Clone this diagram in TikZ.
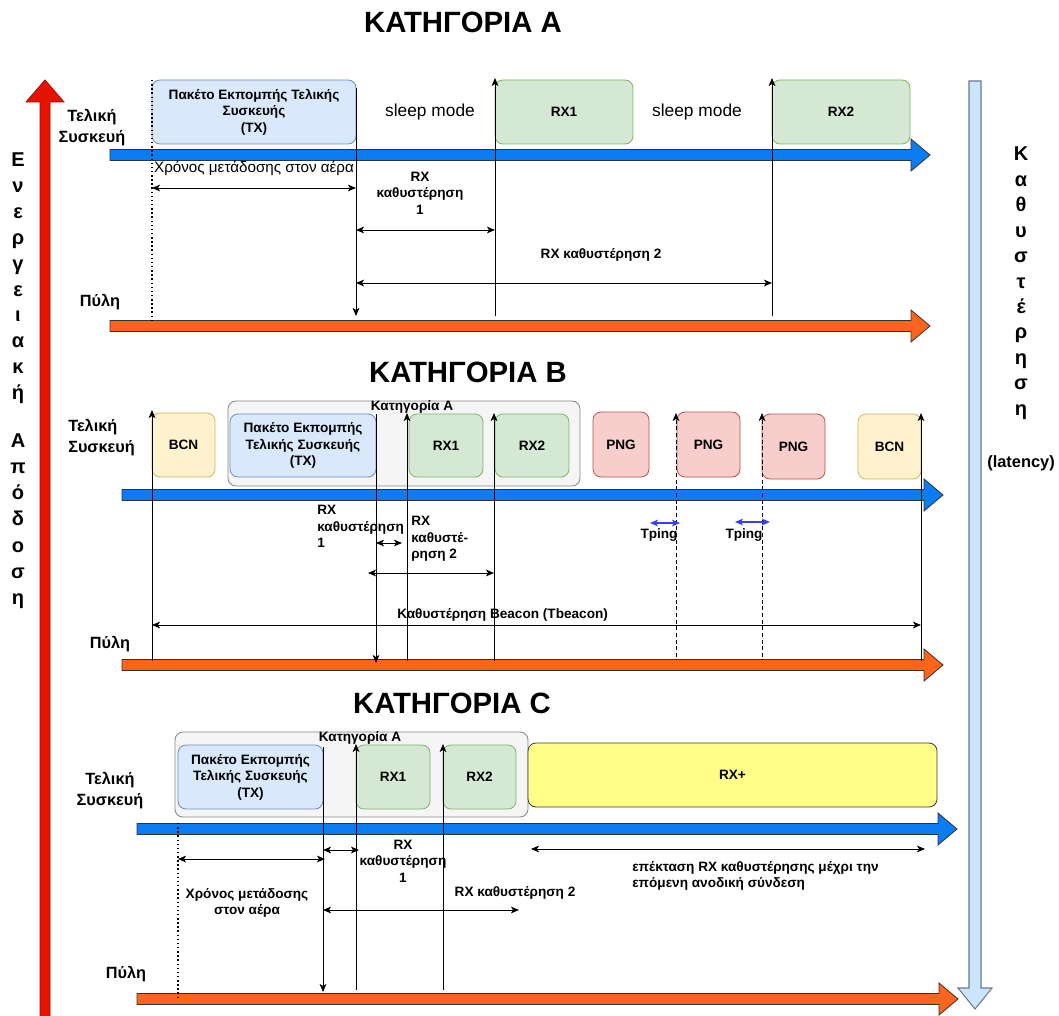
\documentclass[tikz,border=0pt]{standalone}
\usepackage{fontspec}
\setmainfont{Liberation Sans}
\usetikzlibrary{arrows.meta}
\definecolor{tlblue}{RGB}{10,125,245}
\definecolor{tlorange}{RGB}{255,100,28}
\definecolor{bigred}{RGB}{229,20,0}
\definecolor{bigreddraw}{RGB}{178,0,0}
\definecolor{latfill}{RGB}{204,229,255}
\definecolor{latdraw}{RGB}{110,120,140}
\definecolor{txfill}{HTML}{DAE8FC}
\definecolor{txdraw}{HTML}{6C8EBF}
\definecolor{rxfill}{HTML}{D5E8D4}
\definecolor{rxdraw}{HTML}{82B366}
\definecolor{bcnfill}{HTML}{FFF2CC}
\definecolor{bcndraw}{HTML}{D6B656}
\definecolor{pngfill}{HTML}{F8CECC}
\definecolor{pngdraw}{HTML}{B85450}
\definecolor{grpfill}{HTML}{F5F5F5}
\definecolor{grpdraw}{HTML}{666666}
\definecolor{rxpfill}{HTML}{FFFF88}
\definecolor{rxpdraw}{HTML}{36393D}
\definecolor{tpingc}{RGB}{60,60,255}
\tikzset{
  lbl/.style={font=\fontsize{12.2}{15.75}\selectfont\bfseries, align=center, inner sep=0},
  smalltxt/.style={font=\fontsize{10.2}{12.4}\selectfont\bfseries, align=center, inner sep=0},
  titletxt/.style={font=\fontsize{22}{26}\selectfont\bfseries, inner sep=0},
  sleeptxt/.style={font=\fontsize{13}{15}\selectfont, inner sep=0},
  vlet/.style={font=\fontsize{15}{17}\selectfont\bfseries, anchor=base, inner sep=0},
  blk/.style={rounded corners=6pt, inner sep=0, align=center, line width=0.6pt, font=\fontsize{10.2}{12.4}\selectfont\bfseries},
  txb/.style={blk, fill=txfill, draw=txdraw},
  rxb/.style={blk, fill=rxfill, draw=rxdraw},
  bcnb/.style={blk, fill=bcnfill, draw=bcndraw},
  pngb/.style={blk, fill=pngfill, draw=pngdraw},
  grpb/.style={blk, fill=grpfill, draw=grpdraw!80},
  rxpb/.style={blk, fill=rxpfill, draw=rxpdraw},
  tip/.tip={Stealth[length=6pt,width=5pt,inset=1.5pt]},
  conn/.style={line width=0.6pt, -tip},
  dim/.style={line width=0.6pt, tip-tip},
  pingdim/.style={line width=0.8pt, tip-tip, draw=tpingc},
  dotline/.style={line width=1.1pt, dotted},
  dashline/.style={line width=0.6pt, dash pattern=on 3pt off 2pt, -tip},
}
\newcommand\bx[7]{\node[#6, minimum width={(#4-#2)*0.75pt}, minimum height={(#5-#3)*0.75pt}] (#1) at ({(#2+#4)/2},{(#3+#5)/2}) {#7};}
\newcommand\tline[4]{\draw[fill=#4, draw=black!80, line width=0.6pt] (#1,{#3-5.5}) -- ({#2-19},{#3-5.5}) -- ({#2-19},{#3-16}) -- (#2,#3) -- ({#2-19},{#3+16}) -- ({#2-19},{#3+5.5}) -- (#1,{#3+5.5}) -- cycle;}
\begin{document}
\begin{tikzpicture}[x=0.75pt,y=-0.75pt]
\useasboundingbox[fill=white] (0,0) rectangle (1059,1016);

% ---- side arrows ----
\draw[fill=bigred, draw=bigreddraw, line width=0.6pt] (40,1016) -- (40,102) -- (26,102) -- (45,80) -- (64,102) -- (50,102) -- (50,1016);
\draw[fill=latfill, draw=latdraw, line width=0.8pt] (969,81) -- (981,81) -- (981,988) -- (992,988) -- (975,1009) -- (958,988) -- (969,988) -- cycle;
\foreach \c [count=\i from 0] in {Ε,ν,ε,ρ,γ,ε,ι,α,κ,ή}
  \node[vlet] (ea\i) at (18,{167+25.8*\i}) {\c};
\foreach \c [count=\i from 0] in {Α,π,ό,δ,ο,σ,η}
  \node[vlet] (eb\i) at (18,{447+26.3*\i}) {\c};
\foreach \c [count=\i from 0] in {Κ,α,θ,υ,σ,τ,έ,ρ,η,σ,η}
  \node[vlet] (k\i) at (1021,{161+25.4*\i}) {\c};
\node[font=\fontsize{12.3}{14}\selectfont\bfseries, inner sep=0] (lat) at (1021,463) {(latency)};

% ================= A =================
\node[titletxt] (tA) at (463,22) {ΚΑΤΗΓΟΡΙΑ Α};
\node[lbl] (devA) at (92,128) {Τελική\\Συσκευή};
\node[lbl] (gwA) at (100,302) {Πύλη};
\tline{110}{930}{155}{tlblue}
\tline{110}{930}{326}{tlorange}
\bx{txA}{152}{80}{356}{144}{txb}{Πακέτο Εκπομπής Τελικής\\Συσκευής\\(TX)}
\bx{rx1A}{495}{80}{633}{144}{rxb}{RX1}
\bx{rx2A}{772}{80}{910}{144}{rxb}{RX2}
\node[sleeptxt] (slA1) at (430,112) {sleep mode};
\node[sleeptxt] (slA2) at (697,112) {sleep mode};
\draw[dotline] (152,80) -- (152,320);
\draw[conn] (356,88) -- (356,316);
\draw[conn] (495,316) -- (495,78);
\draw[conn] (772,316) -- (772,78);
\draw[dim] (152,188) -- (356,188);
\draw[dim] (356,230) -- (495,230);
\draw[dim] (356,283) -- (772,283);
\node[font=\fontsize{11.4}{13}\selectfont, inner sep=0] (airA) at (254,168) {Χρόνος μετάδοσης στον αέρα};
\node[smalltxt] (d1A) at (420,193) {RX\\καθυστέρηση\\1};
\node[smalltxt] (d2A) at (601,255) {RX καθυστέρηση 2};

% ================= B =================
\node[titletxt] (tB) at (468,372) {ΚΑΤΗΓΟΡΙΑ Β};
\node[lbl, align=left, anchor=west] (devB) at (68,438) {Τελική\\Συσκευή};
\node[lbl] (gwB) at (110,644) {Πύλη};
\tline{122}{943}{495}{tlblue}
\tline{122}{943}{665}{tlorange}
\bx{grpB}{228}{401}{580}{486}{grpb}{}
\node[smalltxt] (catB) at (412,407) {Κατηγορία Α};
\bx{bcnB1}{152}{413}{215}{477}{bcnb}{BCN}
\bx{txB}{230}{414}{376}{477}{txb}{Πακέτο Εκπομπής\\Τελικής Συσκευής\\(TX)}
\bx{rx1B}{409}{414}{483}{477}{rxb}{RX1}
\bx{rx2B}{495}{414}{569}{477}{rxb}{RX2}
\bx{png1}{593}{412}{649}{477}{pngb}{PNG}
\bx{png2}{677}{412}{740}{477}{pngb}{PNG}
\bx{png3}{762}{414}{825}{479}{pngb}{PNG}
\bx{bcnB2}{858}{414}{921}{479}{bcnb}{BCN}
\draw[conn] (152,661) -- (152,410);
\draw[conn] (376,414) -- (376,663);
\draw[conn] (407,661) -- (407,413);
\draw[conn] (494,661) -- (494,413);
\draw[dashline] (676,657) -- (676,413);
\draw[dashline] (762,657) -- (762,413);
\draw[conn] (921,661) -- (921,413);
\node[smalltxt, align=left, anchor=north west] (d1B) at (317,505) {RX\\καθυστέρηση\\1};
\node[smalltxt, align=left, anchor=north west] (d2B) at (411,516) {RX\\καθυστέ-\\ρηση 2};
\draw[dim] (376,543) -- (402,543);
\draw[dim] (368,573) -- (494,573);
\draw[pingdim] (650,523) -- (680,523);
\draw[pingdim] (735,522) -- (770,522);
\node[smalltxt] (tp1) at (659,535) {Tping};
\node[smalltxt] (tp2) at (744,535) {Tping};
\node[smalltxt, anchor=west] (bcnlbl) at (397,615) {Καθυστέρηση Beacon (Tbeacon)};
\draw[dim] (152,625) -- (921,625);

% ================= C =================
\node[titletxt] (tC) at (452,703) {ΚΑΤΗΓΟΡΙΑ C};
\node[lbl] (devC) at (110,791) {Τελική\\Συσκευή};
\node[lbl] (gwC) at (126,974) {Πύλη};
\tline{137}{957}{829}{tlblue}
\tline{137}{958}{999}{tlorange}
\bx{grpC}{175}{732}{528}{817}{grpb}{}
\node[smalltxt] (catC) at (360,738) {Κατηγορία Α};
\bx{txC}{178}{745}{323}{809}{txb}{Πακέτο Εκπομπής\\Τελικής Συσκευής\\(TX)}
\bx{rx1C}{356}{745}{430}{809}{rxb}{RX1}
\bx{rx2C}{443}{745}{516}{809}{rxb}{RX2}
\bx{rxp}{528}{743}{937}{807}{rxpb}{RX+}
\draw[dotline] (178,823) -- (178,997);
\draw[conn] (323,747) -- (323,992);
\draw[conn] (356,990) -- (356,744);
\draw[conn] (443,990) -- (443,744);
\draw[dim] (178,859) -- (325,859);
\draw[dim] (323,850) -- (359,850);
\draw[dim] (323,910) -- (519,910);
\draw[dim] (531,849) -- (925,849);
\node[smalltxt] (airC) at (247,903) {Χρόνος μετάδοσης\\στον αέρα};
\node[smalltxt] (d1C) at (403,861) {RX\\καθυστέρηση\\1};
\node[smalltxt] (d2C) at (515,893) {RX καθυστέρηση 2};
\node[smalltxt, align=left, anchor=west] (extC) at (632,876) {επέκταση RX καθυστέρησης μέχρι την\\επόμενη ανοδική σύνδεση};
\end{tikzpicture}
\end{document}
